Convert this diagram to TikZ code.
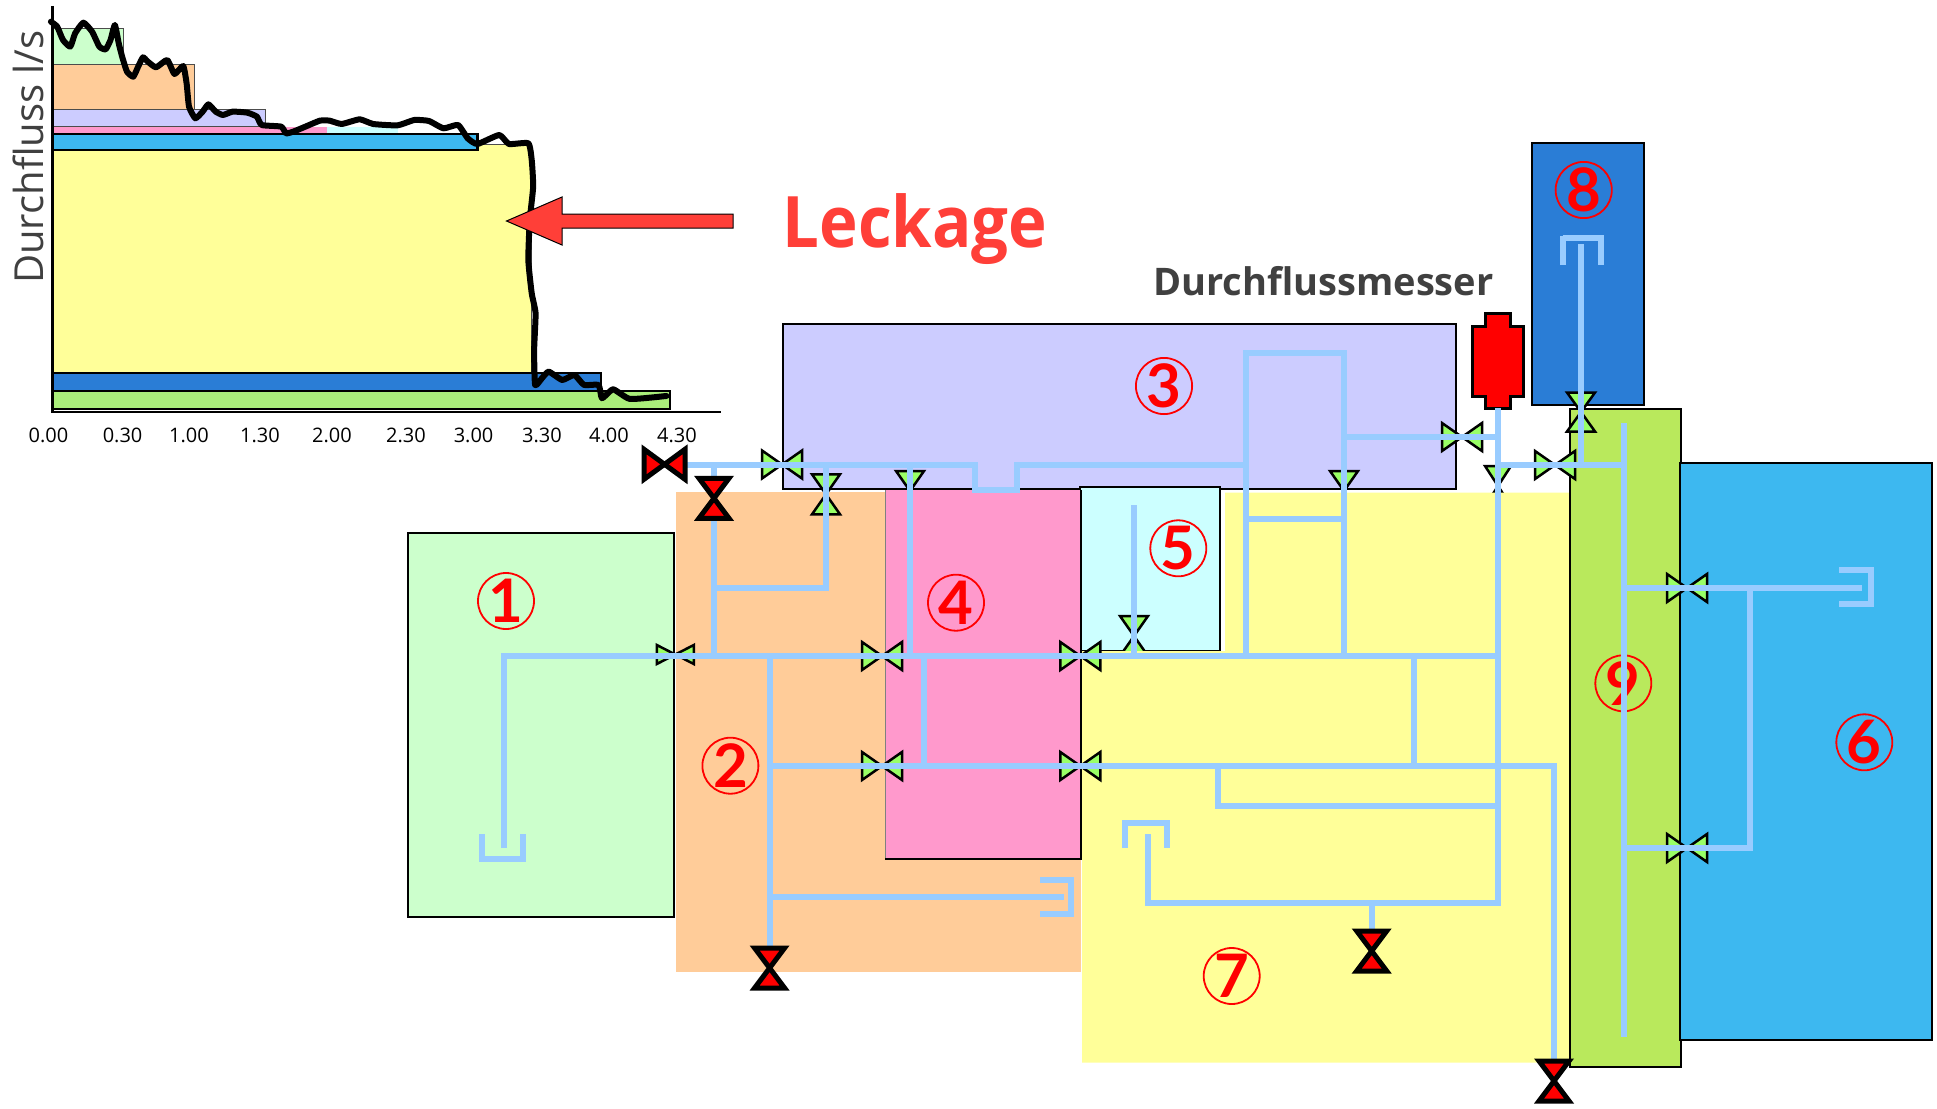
\documentclass[tikz,border=0pt]{standalone}
\usepackage{fontspec}
\setmainfont{Open Sans}
\newfontfamily\numfont{Lato}
\definecolor{pipeblue}{HTML}{99CCFF}
\definecolor{cgreenl}{HTML}{CCFFCC}
\definecolor{corange}{HTML}{FFCC99}
\definecolor{clav}{HTML}{CCCCFF}
\definecolor{cpink}{HTML}{FF99CC}
\definecolor{ccyan}{HTML}{CCFFFF}
\definecolor{cyellow}{HTML}{FFFF99}
\definecolor{csky}{HTML}{3DB8F0}
\definecolor{cblue}{HTML}{2A7DD6}
\definecolor{cgreen}{HTML}{B9E95C}
\definecolor{cbar}{HTML}{AAEE7A}
\definecolor{cvalve}{HTML}{99FF66}
\definecolor{cleak}{HTML}{FF3F38}
\definecolor{ctext}{HTML}{404040}
\tikzset{
  pipe/.style={draw=pipeblue,line width=6pt,line join=miter},
  cup/.style={draw=pipeblue,line width=5.5pt,line join=miter},
  box/.style={draw=black,line width=2.2pt},
  bar/.style={draw=black!70,line width=1pt},
  barthick/.style={draw=black,line width=2.5pt},
  gvalve/.style={draw=black,fill=cvalve,line width=2.5pt,line join=miter,miter limit=6},
  rvalve/.style={draw=black,fill=red,line width=5pt,line join=miter,miter limit=3},
  num/.style={circle,draw=red,line width=1.8pt,text=red,minimum size=56pt,inner sep=0pt,
    font=\numfont\bfseries\fontsize{60}{60}\selectfont},
  tick/.style={inner sep=0pt,font=\fontsize{20}{20}\selectfont,text=black}
}
\newcommand{\valve}[7]{% name,x,y,rot,half length,half width,style
  \coordinate (#1) at (#2,#3);
  \draw[#7,shift={(#2,#3)},rotate=#4] (-#5,-#6) -- (#5,#6) -- (#5,-#6) -- (-#5,#6) -- cycle;
}
\begin{document}
\begin{tikzpicture}[x=1pt,y=-1pt]
\useasboundingbox (0,0) rectangle (1937,1108);
\fill[white] (0,0) rectangle (1937,1108);

% --- chart ---
\filldraw[bar,fill=cgreenl] (52,29) rectangle (123,65);
\filldraw[bar,fill=corange] (52,65) rectangle (194.5,109);
\filldraw[bar,fill=clav] (52,109) rectangle (265,126.7);
\filldraw[bar,fill=cyellow] (52,144) rectangle (531,373);
\filldraw[barthick,fill=csky] (52,134) rectangle (477.5,150);
\fill[cpink] (52,126.7) rectangle (327,133);
\fill[ccyan] (327,126.7) rectangle (398,133);
\filldraw[barthick,fill=cblue] (52,373) rectangle (601,391);
\filldraw[barthick,fill=cbar] (52,391) rectangle (670,409);
\coordinate (axtop) at (52.5,6);
\coordinate (axorg) at (52.5,412);
\coordinate (axend) at (721,412);
\draw[line width=2.5pt] (axtop) -- (axorg) -- (axend);
\begin{scope}[x=0.4847pt,y=-0.3333pt]
\draw[line width=6pt,line join=round,line cap=round] plot[smooth,tension=0.3] coordinates {
(105,65)(118,80)(130,120)(145,140)(155,100)(172,68)(190,95)(205,140)(218,148)(228,120)(237,75)(245,130)(252,170)(262,215)(275,230)(285,200)(295,172)(305,185)(322,202)(345,180)(360,222)(378,198)(385,250)(390,320)(403,355)(418,335)(430,313)(445,335)(460,345)(480,335)(510,338)(530,350)(540,375)(580,380)(590,400)(605,395)(630,380)(660,362)(680,362)(705,372)(742,358)(770,372)(820,376)(855,360)(885,363)(915,385)(945,375)(965,415)(985,432)(1030,405)(1050,432)(1090,430)(1097,480)(1100,560)(1093,660)(1090,780)(1097,880)(1105,940)(1102,1050)(1104,1155)(1118,1135)(1132,1115)(1160,1140)(1185,1125)(1205,1155)(1235,1155)(1242,1195)(1265,1168)(1300,1197)(1375,1188)};
\end{scope}
\filldraw[draw=black,line width=1pt,fill=cleak] (506.5,221) -- (562,197) -- (562,214) -- (733,214) -- (733,228) -- (562,228) -- (562,245) -- cycle;
\foreach \i/\x/\t in {1/48.5/0.00,2/122.6/0.30,3/189/1.00,4/260/1.30,5/332/2.00,6/406/2.30,7/473.6/3.00,8/542/3.30,9/609/4.00,10/677/4.30}
  \node[tick] (tick\i) at (\x,435) {\t};
\node[rotate=90,anchor=base west,inner sep=0pt,text=ctext,font=\fontsize{40}{40}\selectfont] (ylabel) at (43.6,284) {Durchfluss l/s};
\node[anchor=base west,inner sep=0pt,text=cleak,xscale=0.92,font=\bfseries\fontsize{71}{71}\selectfont] (leak) at (782.5,247.3) {Leckage};
\node[anchor=base west,inner sep=0pt,text=ctext,font=\bfseries\fontsize{38}{38}\selectfont] (meterlabel) at (1153,295) {Durchflussmesser};

% --- compartments, back ones ---
\filldraw[box,fill=clav] (783,324) rectangle (1455.7,489.3);
\filldraw[box,fill=ccyan] (1080,486.7) rectangle (1220,651);

% valves half hidden by the compartments drawn next
\valve{vPink}{910}{491}{90}{20}{14}{gvalve}
\valve{vYel}{1344}{491}{90}{20}{14}{gvalve}
\valve{vMeter}{1498}{486}{90}{20}{13}{gvalve}
\valve{vCyan}{1134}{636}{90}{20}{14}{gvalve}

\fill[cyellow] (1225,492.7) -- (1569,492.7) -- (1569,1062.7) -- (1082,1062.7) -- (1082,651) -- (1225,651) -- cycle;
\fill[corange] (676,491.7) rectangle (1081,971.7);
\fill[cpink] (885,490) rectangle (1080,859);
\draw[black!50,line width=1pt] (885,490) -- (885,859);
\draw[line width=2.2pt] (885,859) -- (1081,859) -- (1081,490);
\filldraw[box,fill=cgreenl] (408,532.7) rectangle (674,916.7);
\filldraw[box,fill=cgreen] (1570,409.3) rectangle (1681,1067);
\filldraw[box,fill=csky] (1680,463.3) rectangle (1931.7,1040);
\filldraw[box,fill=cblue] (1531.7,143.3) rectangle (1644,405.3);

% flow meter
\filldraw[draw=black,fill=red,line width=3pt,line join=miter] (1485,313.5) -- (1510.5,313.5) -- (1510.5,326) -- (1523,326) -- (1523,396) -- (1510.5,396) -- (1510.5,408) -- (1485,408) -- (1485,396) -- (1472.5,396) -- (1472.5,326) -- (1485,326) -- cycle;
\coordinate (meter) at (1498,408);

% --- numbers ---
\node[num] (n1) at (506,601) {1};
\node[num] (n2) at (730.4,765.7) {2};
\node[num] (n3) at (1164,386) {3};
\node[num] (n4) at (956,602.7) {4};
\node[num] (n5) at (1178.3,548.3) {5};
\node[num] (n6) at (1864.3,742.3) {6};
\node[num] (n7) at (1231.7,976) {7};
\node[num] (n8) at (1583.7,190) {8};
\node[num] (n9) at (1623.3,683.3) {9};

% --- green valves ---
\valve{vA}{782}{464.5}{0}{20}{14}{gvalve}
\valve{vB}{826}{494.3}{90}{20}{14}{gvalve}
\valve{vC}{675.3}{654.5}{0}{18.5}{9.5}{gvalve}
\valve{vD}{882}{656}{0}{20}{14}{gvalve}
\valve{vE}{1080.3}{656}{0}{20}{14}{gvalve}
\valve{vF}{882}{766}{0}{20}{14}{gvalve}
\valve{vG}{1080.3}{766}{0}{20}{14}{gvalve}
\valve{vH}{1462}{437}{0}{20}{14}{gvalve}
\valve{vI}{1555}{465}{0}{20}{14}{gvalve}
\valve{vJ}{1581}{412}{90}{19.5}{14}{gvalve}
\valve{vK}{1687}{588}{0}{20}{14}{gvalve}
\valve{vL}{1687}{848}{0}{20}{14}{gvalve}

% --- junction points ---
\coordinate (tStart) at (664.5,465);
\coordinate (dipA) at (975,465);
\coordinate (dipB) at (975,490);
\coordinate (dipC) at (1017,490);
\coordinate (dipD) at (1017,465);
\coordinate (topR) at (1246,465);
\coordinate (loopA) at (1246,353);
\coordinate (loopB) at (1344,353);
\coordinate (mainR) at (1498,656);
\coordinate (mainL) at (504,656);
\coordinate (cup1drop) at (504,848);
\coordinate (secR) at (1554,766);
\coordinate (secL) at (770,766);
\coordinate (redC) at (1554,1060);
\coordinate (redB) at (770,947);
\coordinate (branchA) at (1218.3,806.3);
\coordinate (branchB) at (1498,806.3);
\coordinate (lowR) at (1498,902.7);
\coordinate (lowL) at (1148,902.7);
\coordinate (cup7drop) at (1148,834);
\coordinate (redD) at (1371.5,930);

% --- pipes ---
\draw[pipe] (tStart) -- (dipA) -- (dipB) -- (dipC) -- (dipD) -- (topR);
\draw[pipe] (1246,656) -- (loopA) -- (loopB) -- (1344,656);
\draw[pipe] (1246,518.7) -- (1344,518.7);
\draw[pipe] (1344,437) -- (1498,437);
\draw[pipe] (meter) -- (lowR) -- (lowL) -- (cup7drop);
\draw[pipe] (cup1drop) -- (mainL) -- (mainR);
\draw[pipe] (714,465) -- (714,656);
\draw[pipe] (714,587.7) -- (826,587.7) -- (826,465);
\draw[pipe] (910,465) -- (910,656);
\draw[pipe] (924,656) -- (924,766);
\draw[pipe] (770,656) -- (redB);
\draw[pipe] (secL) -- (secR) -- (redC);
\draw[pipe] (770,897) -- (1064,897);
\draw[pipe] (1414,656) -- (1414,766);
\draw[pipe] (1218.3,766) -- (branchA) -- (branchB);
\draw[pipe] (1371.5,902.7) -- (redD);
\draw[pipe] (1134,505) -- (1134,656);
\draw[pipe] (1498,465) -- (1624,465);
\draw[pipe] (1581,244) -- (1581,465);
\draw[pipe] (1624,423) -- (1624,1037);
\draw[pipe] (1624,588.3) -- (1861.7,588.3);
\draw[pipe] (1624,847.7) -- (1750,847.7) -- (1750,588.3);

% --- outlets ---
\draw[cup] (482,834) -- (482,859) -- (523,859) -- (523,834);
\draw[cup] (1040,880) -- (1071,880) -- (1071,914) -- (1040,914);
\draw[cup] (1125,848) -- (1125,823) -- (1167,823) -- (1167,848);
\draw[pipe] (1562.5,265) -- (1562.5,236);
\draw[cup] (1562.5,238) -- (1601,238) -- (1601,265);
\draw[cup] (1839,570) -- (1871,570) -- (1871,604) -- (1839,604);

% --- red valves ---
\valve{rA}{664.5}{464.3}{0}{20.5}{15}{rvalve}
\valve{rB}{714}{498.3}{90}{20}{15}{rvalve}
\valve{rC}{769.6}{968}{90}{20}{15}{rvalve}
\valve{rD}{1371.7}{951}{90}{20}{15}{rvalve}
\valve{rE}{1554}{1081}{90}{20}{15}{rvalve}
\end{tikzpicture}
\end{document}
